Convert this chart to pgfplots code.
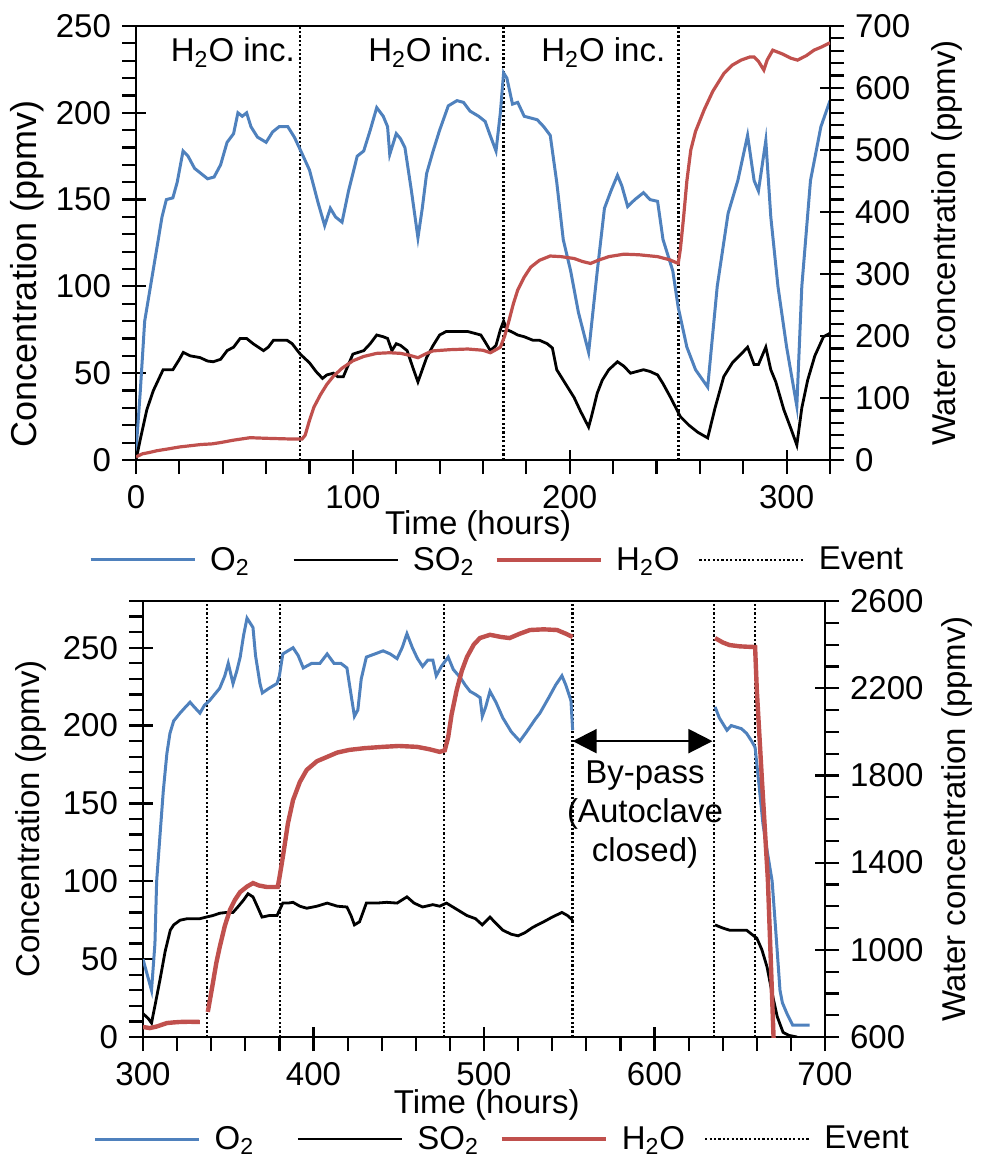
\documentclass[border=0pt]{standalone}
\usepackage{fontspec}
\setmainfont{Liberation Sans}
\usepackage{pgfplots}
\pgfplotsset{compat=1.18}
\usetikzlibrary{arrows.meta}
\definecolor{o2blue}{RGB}{79,129,189}
\definecolor{h2ored}{RGB}{192,80,77}
\newcommand{\fs}{\fontsize{16.5}{19.5}\selectfont}
\newcommand{\legent}[1]{\makebox[40pt][l]{\hspace{5pt}#1}}
\pgfplotsset{
  base/.style={scale only axis, font=\fs,
    tick label style={font=\fs},
    label style={font=\fs},
    /pgf/number format/assume math mode=true,
    /pgf/number format/1000 sep={},
    tick align=center, major tick length=10pt, minor tick length=7pt,
    axis line style={line width=1.1pt},
    tick style={line width=1.1pt, black},
    clip=true},
  o2/.style={color=o2blue, line width=1.5pt},
  so2/.style={color=black, line width=1.4pt},
  h2o/.style={color=h2ored, line width=1.6pt},
  ev/.style={color=black, line width=1.3pt, dash pattern=on 1.1pt off 1.1pt},
  legimg/.style={legend image code/.code={\draw[##1] (0pt,0pt) -- (52pt,0pt);}},
}
\begin{document}
\begin{tikzpicture}
\path[use as bounding box] (0pt,0pt) rectangle (490pt,-579.5pt);
% ---------------- TOP PANEL ----------------
\begin{axis}[base, at={(68pt,-230pt)}, anchor=south west, width=347pt, height=217pt,
  xmin=0, xmax=320, ymin=0, ymax=250,
  xtick={0,100,200,300}, minor xtick={0,20,...,320},
  ytick={0,50,...,250}, minor ytick={0,10,...,250},
  every minor x tick/.style={yshift=-3.5pt},
  every minor y tick/.style={xshift=-3.5pt},
  xtick pos=left, ytick pos=left,
  xticklabel style={yshift=-4pt}, yticklabel style={xshift=-4pt},
  xlabel={Time (hours)},
  every axis x label/.style={at={(axis description cs:0.493,-0.152)}, anchor=center},
  ylabel={\fontsize{18}{20}\selectfont Concentration (ppmv)},
  every axis y label/.style={at={(axis description cs:-0.157,0.4286)}, rotate=90, anchor=center},
]
\addplot[ev] coordinates {(75.7,0) (75.7,250)};
\addplot[ev] coordinates {(169.4,0) (169.4,250)};
\addplot[ev] coordinates {(250.2,0) (250.2,250)};
\addplot[o2] coordinates {
(0,5) (2,40) (4,80) (6,95) (8,110) (10,125) (12,140) (14,150) (17,151) (19,160) (21.7,178) (24,175) (27,168) (30,165) (33,162) (36,163) (39,170) (42,183) (45,188) (47,200) (49,198) (51,200) (53,192) (56,186) (60,183) (63,189) (66,192) (70,192) (73,186) (76,178) (80,167) (84,148) (87,135) (89.6,145) (92,140) (95,137) (98,155) (102,175) (105,178) (108,190) (111,203) (114,198) (116,192) (117,176) (120,188) (122,185) (124,180) (127,155) (130,128) (132,145) (134,165) (137,178) (140,190) (144,204) (148,207) (151,206) (154,201) (158,198) (161,195) (163,188) (166,178) (168,200) (169.5,223) (171,220) (173.6,205) (176,206) (179,198) (182,197) (185,196) (188,192) (191,187) (194,160) (197,127) (200.4,109) (204,85) (208.7,62) (212.7,109) (216,145) (219,155) (222,164) (224,158) (226.7,146) (230,150) (234,154) (237,150) (240.5,149) (243,127) (247.5,109) (250,88) (254,65) (258,52) (263.6,42) (268,100) (273,142) (277.5,161) (282,187) (285,161) (287,155) (290.4,184) (292.7,140) (296,100) (300,65) (304.7,31) (307,100) (311,161) (315.8,192) (320,207)};
\addplot[so2] coordinates {
(0,0) (2,12) (5,29) (8,40) (12.5,52) (17,52) (20,58) (21.8,62) (25,60) (29.5,59) (33,57) (35.6,56.6) (39,58) (42,63) (45,65) (48,70) (51,70) (54,67) (58.8,63) (61,65) (63.4,69) (66,69) (69.6,69) (72,67) (75.7,61) (80,56) (83,51) (86,47) (88,49) (91,50) (93,48) (95.6,48) (100,61) (105,63) (108,67) (111,72) (114,71) (116,70) (118,63) (120,67) (122,66) (125,63) (128,52) (130,45) (132,52) (134,59) (137,66) (140,72) (143,74) (146,74) (150,74) (153,74) (156,73) (159,72) (161,68) (163.4,63) (166,66) (168,75) (169.5,80) (171,75) (173,74) (176,72) (179,71) (183,69) (186,69) (189.6,67) (192,64.5) (194,52) (198,44) (202,36) (205,28) (208.7,19) (210,25) (212.7,38.6) (215,46) (218,52) (222,56.6) (225,54) (228,50) (231,51) (234,52) (237,51) (240.5,49) (243,44) (246.5,36) (251,25) (255,20) (259,16) (263.6,12.7) (267,30) (271,48) (275,56) (279,61) (282,65) (285,55) (287,55) (290.4,65) (292.7,52) (295,45) (298.7,29) (302,18) (304.7,8.6) (307,30) (309.7,46) (313,60) (317,71) (320,73)};
\node[anchor=base east, inner sep=0pt, font=\fs] at (axis cs:73.4,229.3) {H\textsubscript{2}O inc.};
\node[anchor=base east, inner sep=0pt, font=\fs] at (axis cs:164.4,229.3) {H\textsubscript{2}O inc.};
\node[anchor=base east, inner sep=0pt, font=\fs] at (axis cs:244.2,229.3) {H\textsubscript{2}O inc.};
\end{axis}
\begin{axis}[base, legimg, at={(68pt,-230pt)}, anchor=south west, width=347pt, height=217pt,
  xmin=0, xmax=320, ymin=0, ymax=700,
  axis x line=none, axis y line*=right,
  ytick={0,100,...,700}, minor ytick={0,20,...,700},
  every minor y tick/.style={xshift=3.5pt},
  yticklabel style={xshift=4pt},
  ylabel={Water concentration (ppmv)},
  every axis y label/.style={at={(axis description cs:1.1686,0.5)}, rotate=90, anchor=center},
  legend columns=4,
  legend style={at={(axis description cs:0.5115,-0.2304)}, anchor=center, draw=none, fill=none, font=\fs,
    /tikz/every even column/.append style={column sep=4pt}},
]
\addlegendimage{o2}\addlegendentry{\legent{O\textsubscript{2}}}
\addlegendimage{so2}\addlegendentry{\legent{SO\textsubscript{2}}}
\addplot[h2o] coordinates {
(0,5) (3,10) (6,12) (9.7,15) (15,18) (20,21) (25,23) (30,25) (35,26) (38.8,28) (45,32) (52.6,36) (60,35) (70,34) (76.6,34) (78,40) (80,64) (82,85) (85,105) (88,122) (91,135) (95,148) (100,160) (105,167) (111,172) (117,173) (122,172) (126,169) (130,165) (134,172) (137,176) (145,178) (153,179) (160,177) (163.4,173) (166,178) (168,182) (170,200) (172,225) (174,252) (176,274) (179,295) (182,311) (186,322) (191,329) (196,328) (202,325) (206,320) (209.6,317) (213,322) (218,328) (225,332) (232,331) (240.5,328) (246,323) (250,317) (251,340) (252.5,392) (254,450) (255.8,500) (258,530) (262,565) (266,595) (271,623) (275,637) (279,645) (283,650) (285,650) (287,643) (289.5,629) (291,645) (293.6,661) (298,655) (302,648) (305,645) (309,652) (312.6,661) (316,666) (320,673)};
\addlegendentry{\legent{H\textsubscript{2}O}}
\addlegendimage{ev}\addlegendentry{\legent{Event}}
\end{axis}
% ---------------- BOTTOM PANEL ----------------
\begin{axis}[base, at={(71.5pt,-518.5pt)}, anchor=south west, width=341pt, height=218pt,
  xmin=300, xmax=700, ymin=0, ymax=280,
  xtick={300,400,...,700}, minor xtick={300,320,...,700},
  ytick={0,50,...,250}, minor ytick={0,10,...,280},
  every minor x tick/.style={yshift=-3.5pt},
  every minor y tick/.style={xshift=-3.5pt},
  xtick pos=left, ytick pos=left,
  xticklabel style={yshift=-4pt}, yticklabel style={xshift=-4pt},
  xlabel={Time (hours)},
  every axis x label/.style={at={(axis description cs:0.504,-0.156)}, anchor=center},
  ylabel={Concentration (ppmv)},
  every axis y label/.style={at={(axis description cs:-0.165,0.5)}, rotate=90, anchor=center},
]
\addplot[ev] coordinates {(337.5,0) (337.5,280)};
\addplot[ev] coordinates {(380.3,0) (380.3,280)};
\addplot[ev] coordinates {(476.5,0) (476.5,280)};
\addplot[ev] coordinates {(552,0) (552,280)};
\addplot[ev] coordinates {(635,0) (635,280)};
\addplot[ev] coordinates {(659,0) (659,280)};
\addplot[o2] coordinates {
(300,50) (302,42) (305,30) (307,60) (308,100) (310,130) (311.9,158) (314,182) (315.8,195) (318,203) (321.7,208) (325,212) (327.6,215) (330,212) (333.4,208) (336,213) (339,216) (342,220) (345,224) (348,232) (350,240) (352.8,227) (355,235) (357,244) (359,258) (361,269) (364.5,263) (366,245) (368.6,227) (370,221) (374,224) (378.6,227) (380,232) (382,246) (385,248) (388,250) (391,245) (394,237) (399,240) (403.8,240) (408,246) (412,240) (416,240) (419.6,237) (422,220) (424,206) (426,210) (428,230) (431,244) (436,246) (440.8,248) (445,246) (449,243) (452,250) (454.8,259) (458,250) (461,243) (464,238) (467,242) (470,242) (472,232) (475,238) (479,244) (482,236) (486,231) (489,226) (491.8,222) (495,220) (497.7,218) (499,206) (501,212) (503.5,222) (507,215) (511,205) (516,196) (521,190) (525,196) (530,204) (532.8,208) (538,218) (542,226) (545.7,232) (548,226) (551,216) (552,197)};
\addplot[o2] coordinates {
(635.5,212) (638,205) (642.5,197) (645,200) (648,199) (651,198) (654,195) (657,190) (659,186) (661,165) (663.6,137) (666,120) (669,100) (671,70) (673.6,30) (675,22) (677.7,15) (681,7.7) (685,7.7) (691,7.7)};
\addplot[so2] coordinates {
(300,15) (303,12) (305,9) (307,20) (310,37) (313,55) (316,68.6) (318,72) (321.7,75) (326,76) (330,76) (333.4,76) (337,77) (341,78) (345,79.5) (349,80) (352.8,80) (356,84) (359,88) (361.6,92) (364.5,90) (367,84) (369.8,77) (374,78) (378.6,78) (382,86) (385,86) (388,86.5) (392,84) (396,82.7) (402,84) (408,86) (414,84) (419.6,83.5) (422,78) (424,72) (427,74) (431,86) (437,86) (443,86.5) (449,86) (454.8,90) (459,86) (464,83.5) (470,85) (474,84) (478,86) (484,82) (490,78) (495,76) (499,72) (503.5,77) (507,73) (511,68.6) (516,66) (520,65) (524,67) (528.7,70.5) (535,74) (540,77) (545.7,80) (549,78) (552,75)};
\addplot[so2] coordinates {
(635.5,72) (640,70) (644,68.6) (649,68.6) (654,68.6) (657,66) (660,63.5) (663,56) (666,45) (669,28) (672,13) (675.4,3) (679,1) (683.6,0)};
\draw[{Triangle[length=12pt,width=12pt]}-{Triangle[length=12pt,width=12pt]}, line width=1pt] (axis cs:552,190) -- (axis cs:634,190);
\node[align=center, font=\fs, inner sep=0pt] at (axis cs:594.4,143) {By-pass\\(Autoclave\\closed)};
\end{axis}
\begin{axis}[base, legimg, at={(71.5pt,-518.5pt)}, anchor=south west, width=341pt, height=218pt,
  xmin=300, xmax=700, ymin=600, ymax=2600,
  axis x line=none, axis y line*=right,
  ytick={600,1000,...,2600}, minor ytick={600,700,...,2600},
  every minor y tick/.style={xshift=3.5pt},
  yticklabel style={xshift=4pt},
  ylabel={Water concentration (ppmv)},
  every axis y label/.style={at={(axis description cs:1.1935,0.5)}, rotate=90, anchor=center},
  legend columns=4,
  legend style={at={(axis description cs:0.5176,-0.234)}, anchor=center, draw=none, fill=none, font=\fs,
    /tikz/every even column/.append style={column sep=4pt}},
]
\addlegendimage{o2}\addlegendentry{\legent{O\textsubscript{2}}}
\addlegendimage{so2}\addlegendentry{\legent{SO\textsubscript{2}}}
\addplot[h2o, line width=2.2pt] coordinates {
(300,646) (304,641) (308,648) (314,664) (318,667) (321.7,669) (327,670) (333.4,669)};
\addlegendentry{\legent{H\textsubscript{2}O}}
\addlegendimage{ev}\addlegendentry{\legent{Event}}
\addplot[h2o, line width=2.2pt, forget plot] coordinates {
(338,715) (341,848) (343,940) (345,1013) (348,1110) (351,1183) (354,1230) (357,1265) (361,1290) (364.5,1306) (368,1295) (372.7,1288) (376,1288) (379,1288) (380,1330) (382,1425) (385,1580) (388,1687) (392,1770) (396,1825) (402,1865) (408,1885) (414,1905) (421,1917) (430,1925) (440.8,1931) (450,1935) (460.7,1931) (468,1920) (474,1908) (477,1915) (479,1976) (481,2080) (484,2192) (487,2280) (490,2343) (494,2400) (497.6,2430) (503.5,2445) (510,2435) (515,2430) (521,2450) (527,2467) (535,2470) (542.8,2467) (548,2450) (552,2435)};
\addplot[h2o, line width=2.2pt, forget plot] coordinates {
(635.5,2430) (640,2410) (644,2398) (650,2392) (655,2390) (659,2389) (660,2192) (663,1780) (666.5,1320) (670,560)};
\end{axis}
\end{tikzpicture}
\end{document}
